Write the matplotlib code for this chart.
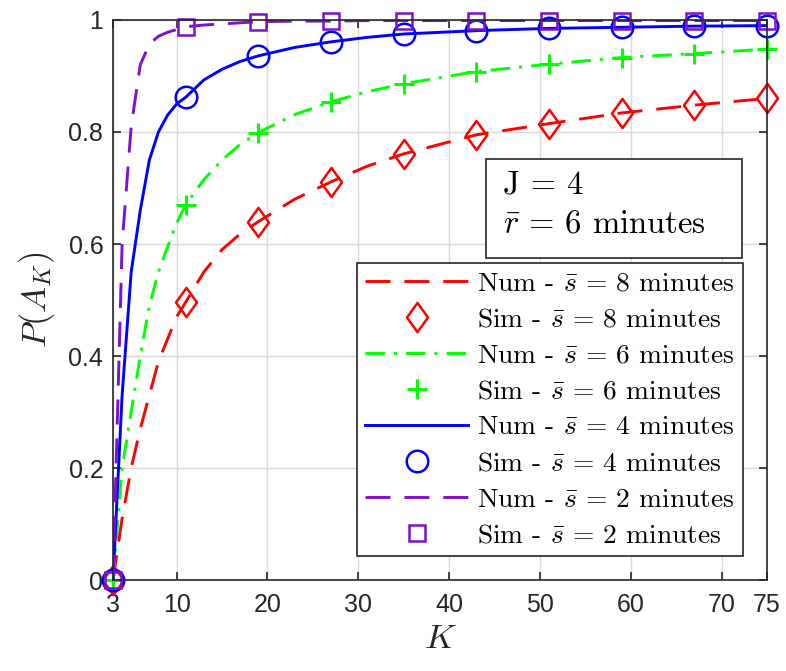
import numpy as np
import matplotlib
matplotlib.use("Agg")
import matplotlib.pyplot as plt
from matplotlib.path import Path
from matplotlib.patches import Rectangle

plt.rcParams['mathtext.fontset'] = 'cm'
plt.rcParams['font.family'] = ['Liberation Sans', 'DejaVu Sans']
plt.rcParams['lines.scale_dashes'] = False

# K values of the numerical curves
K_num = [3, 4, 5, 6, 7, 8, 9, 10, 11, 13, 15, 17, 19, 23, 27, 31, 35, 43, 51, 59, 67, 75]
num_s8 = [0, 0.11, 0.20, 0.27, 0.33, 0.39, 0.43, 0.47, 0.496, 0.55, 0.59, 0.618, 0.640,
          0.680, 0.711, 0.739, 0.761, 0.795, 0.815, 0.834, 0.848, 0.860]
num_s6 = [0, 0.20, 0.30, 0.40, 0.49, 0.55, 0.595, 0.637, 0.670, 0.715, 0.750, 0.778, 0.799,
          0.831, 0.854, 0.872, 0.886, 0.908, 0.921, 0.933, 0.940, 0.948]
num_s4 = [0, 0.33, 0.55, 0.66, 0.75, 0.80, 0.83, 0.85, 0.862, 0.893, 0.912, 0.926, 0.936,
          0.951, 0.961, 0.969, 0.975, 0.981, 0.985, 0.987, 0.989, 0.990]
num_s2 = [0, 0.60, 0.81, 0.92, 0.957, 0.971, 0.978, 0.983, 0.988, 0.991, 0.993, 0.995, 0.997,
          0.998, 0.998, 0.999, 0.999, 0.999, 0.999, 0.999, 0.999, 0.999]

# K values of the simulation points
K_sim = [3, 11, 19, 27, 35, 43, 51, 59, 67, 75]
sim_s8 = [0, 0.496, 0.640, 0.711, 0.761, 0.795, 0.815, 0.834, 0.848, 0.860]
sim_s6 = [0, 0.670, 0.799, 0.854, 0.886, 0.908, 0.921, 0.933, 0.940, 0.948]
sim_s4 = [0, 0.862, 0.936, 0.961, 0.975, 0.981, 0.985, 0.987, 0.989, 0.990]
sim_s2 = [0, 0.988, 0.997, 0.998, 0.999, 0.999, 0.999, 0.999, 0.999, 0.999]

purple = '#7F10D2'
dark = '#262626'

# MATLAB-style diamond (taller than wide)
diamond = Path([(0, 1), (0.72, 0), (0, -1), (-0.72, 0), (0, 1)],
               [Path.MOVETO, Path.LINETO, Path.LINETO, Path.LINETO, Path.CLOSEPOLY])

fig = plt.figure(figsize=(7.86, 6.71), dpi=100)
ax = fig.add_axes([0.1438, 0.1356, 0.832, 0.8346])

lw = 2.1
mew = 1.8

def lab(kind, s):
    return kind + r' - $\bar{s}$ = %d minutes' % s

ax.plot(K_num, num_s8, color='red', lw=lw, dashes=(18, 10), label=lab('Num', 8))
ax.plot(K_sim, sim_s8, ls='none', marker=diamond, ms=21, mfc='none', mec='red',
        mew=mew, clip_on=False, label=lab('Sim', 8))
ax.plot(K_num, num_s6, color='#00FF00', lw=lw, dashes=(14, 6.5, 2.2, 6.5), label=lab('Num', 6))
ax.plot(K_sim, sim_s6, ls='none', marker='+', ms=15, mec='#00FF00', mew=mew + 0.4,
        clip_on=False, label=lab('Sim', 6))
ax.plot(K_num, num_s4, color='blue', lw=lw, label=lab('Num', 4))
ax.plot(K_sim, sim_s4, ls='none', marker='o', ms=15.5, mfc='none', mec='blue', mew=mew,
        clip_on=False, label=lab('Sim', 4))
ax.plot(K_num, num_s2, color=purple, lw=lw, dashes=(18, 10), label=lab('Num', 2))
ax.plot(K_sim, sim_s2, ls='none', marker='s', ms=12, mfc='none', mec=purple, mew=mew,
        clip_on=False, label=lab('Sim', 2))

ax.set_xlim(3, 75)
ax.set_ylim(0, 1)
ax.set_xticks([3, 10, 20, 30, 40, 50, 60, 70, 75])
ax.set_yticks([0, 0.2, 0.4, 0.6, 0.8, 1])
ax.set_yticklabels(['0', '0.2', '0.4', '0.6', '0.8', '1'])
ax.grid(True, color='#D9D9D9', lw=1.0)
ax.set_axisbelow(True)
ax.tick_params(direction='in', length=6, width=1.2, colors=dark, labelsize=18,
               top=True, right=True)
ax.tick_params(axis='x', pad=9)
ax.tick_params(axis='y', pad=7)
for sp in ax.spines.values():
    sp.set_color(dark)
    sp.set_linewidth(1.2)

ax.set_xlabel(r'$K$', fontsize=25, color=dark, labelpad=4)
ax.set_ylabel(r'$P(A_K)$', fontsize=25, color=dark, labelpad=8)

leg = ax.legend(loc='lower right', bbox_to_anchor=(0.963, 0.043),
                prop={'family': 'cmr10', 'size': 19.8}, handlelength=3.75,
                labelspacing=0.43, handletextpad=0.32, borderaxespad=0,
                borderpad=0.3, fancybox=False, framealpha=1, edgecolor=dark)
leg.get_frame().set_linewidth(1.2)

# parameter box
ax.add_patch(Rectangle((0.5703, 0.575), 0.3915, 0.177, transform=ax.transAxes,
                       fc='white', ec=dark, lw=1.2, zorder=5))
ax.text(0.596, 0.691, 'J = 4', transform=ax.transAxes, family='cmr10',
        fontsize=23.5, va='baseline', ha='left', zorder=6)
ax.text(0.596, 0.620, r'$\bar{r}$ = 6 minutes', transform=ax.transAxes, family='cmr10',
        fontsize=23.5, va='baseline', ha='left', zorder=6)

fig.savefig('out.png', dpi=100)
